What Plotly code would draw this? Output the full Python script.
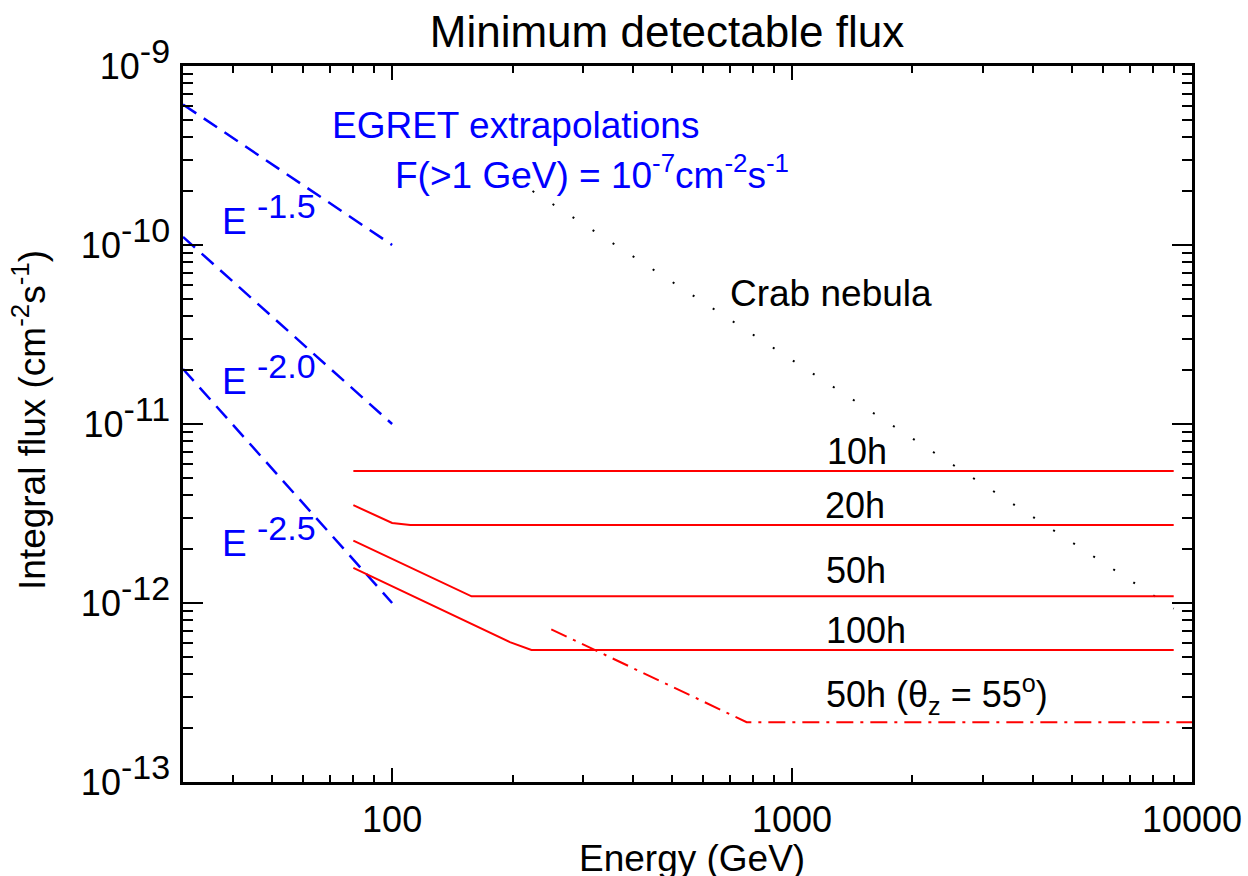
import numpy as np
import plotly.graph_objects as go

# ---------------- data ----------------
egret15_E = [30, 100]
egret15_F = [6.1e-10, 1.0e-10]
egret20_E = [30, 100]
egret20_F = [1.11e-10, 1.0e-11]
egret25_E = [30, 100]
egret25_F = [2.03e-11, 1.0e-12]

crab_E = [200, 9000]
crab_F = [2.37e-10, 9.3e-13]

h10_E = [80, 9000]
h10_F = [5.46e-12, 5.46e-12]
h20_E = [80, 100, 111, 9000]
h20_F = [3.52e-12, 2.80e-12, 2.73e-12, 2.73e-12]
h50_E = [80, 158, 9000]
h50_F = [2.23e-12, 1.09e-12, 1.09e-12]
h100_E = [80, 197, 223, 9000]
h100_F = [1.57e-12, 6.05e-13, 5.46e-13, 5.46e-13]
h50z_E = [250, 770, 10000]
h50z_F = [7.13e-13, 2.16e-13, 2.16e-13]

x_tickvals = [100, 1000, 10000]
x_ticktext = ["100", "1000", "10000"]
y_exponents = [-9, -10, -11, -12, -13]

x_minor = [m * 10 ** d for d in (1, 2, 3) for m in range(2, 10) if 30 <= m * 10 ** d <= 10000]
y_minor = [m * 10.0 ** d for d in (-13, -12, -11, -10) for m in range(2, 10)]

FONT = "Liberation Sans, Arial, Helvetica, sans-serif"
BLUE = "#0000FF"
RED = "#FF0000"

fig = go.Figure()

def line(x, y, color, width, dash):
    fig.add_trace(go.Scatter(x=x, y=y, mode="lines",
                             line=dict(color=color, width=width, dash=dash),
                             showlegend=False, hoverinfo="skip"))

for ex, ey in [(egret15_E, egret15_F), (egret20_E, egret20_F), (egret25_E, egret25_F)]:
    line(ex, ey, BLUE, 2.5, "16px,9px")

line(crab_E, crab_F, "black", 2, "2px,21.9px")

for ex, ey in [(h10_E, h10_F), (h20_E, h20_F), (h50_E, h50_F), (h100_E, h100_F)]:
    line(ex, ey, RED, 2, "solid")
line(h50z_E, h50z_F, RED, 2, "17px,7px,3px,7px")

# ---------------- annotations ----------------
X0 = np.log10(30)
PXDEC = 1009 / (4 - X0)

def px2x(px):
    return X0 + (px - 183) / PXDEC

def py2y(py):
    return -9 - (py - 66) / 179.0

def label(text, px, py, color="black", size=37, anchor="left"):
    fig.add_annotation(x=px2x(px), y=py2y(py), xref="x", yref="y", text=text,
                       showarrow=False, xanchor=anchor, yanchor="middle",
                       font=dict(family=FONT, size=size, color=color))

label("EGRET extrapolations", 330, 125, BLUE)
label("F(&gt;1 GeV) = 10<sup>-7</sup>cm<sup>-2</sup>s<sup>-1</sup>", 393, 172, BLUE)
SUP = "<sup><span style='font-size:34px'>%s</span></sup>"
label("E " + SUP % "-1.5", 220, 214, BLUE)
label("E " + SUP % "-2.0", 220, 374, BLUE)
label("E " + SUP % "-2.5", 220, 536, BLUE)
label("Crab nebula", 728, 293)
label("10h", 825, 451, size=36)
label("20h", 823, 505, size=36)
label("50h", 824, 570, size=36)
label("100h", 824, 630, size=36)
label("50h (θ<sub>z</sub> = 55<sup>o</sup>)", 824, 694, size=36)

# axis titles
fig.add_annotation(x=(692 - 183) / 1009, y=(782 - 858) / 716, xref="paper", yref="paper",
                   text="Energy (GeV)", showarrow=False, xanchor="center", yanchor="middle",
                   font=dict(family=FONT, size=37, color="black"))
fig.add_annotation(x=(30 - 183) / 1009, y=(782 - 420) / 716, xref="paper", yref="paper",
                   text="Integral flux (cm<sup>-2</sup>s<sup>-1</sup>)", textangle=-90,
                   showarrow=False, xanchor="center", yanchor="middle",
                   font=dict(family=FONT, size=37, color="black"))

y_ticktext = ["10<sup><span style='font-size:34px'>%d</span></sup>" % e for e in y_exponents]

fig.update_layout(
    width=1248, height=876,
    margin=dict(l=183, r=56, t=66, b=94),
    paper_bgcolor="white", plot_bgcolor="white",
    title=dict(text="Minimum detectable flux", x=(667 - 183) / 1009, xref="paper",
               xanchor="center", y=1 - 32 / 876, yref="container", yanchor="middle",
               font=dict(family=FONT, size=44, color="black")),
    xaxis=dict(type="log", range=[X0, 4], showgrid=False, zeroline=False, automargin=False,
               showline=True, linecolor="black", linewidth=2.5, mirror="ticks",
               ticks="inside", ticklen=14, tickwidth=2, tickcolor="black",
               tickvals=x_tickvals, ticktext=x_ticktext, ticklabelstandoff=4,
               tickfont=dict(family=FONT, size=36, color="black"),
               minor=dict(tickvals=x_minor, ticks="inside", ticklen=7, tickwidth=2,
                          tickcolor="black", showgrid=False)),
    yaxis=dict(type="log", range=[-13, -9], showgrid=False, zeroline=False, automargin=False,
               showline=True, linecolor="black", linewidth=2.5, mirror="ticks",
               ticks="inside", ticklen=20, tickwidth=2, tickcolor="black",
               tickvals=[10.0 ** e for e in y_exponents], ticktext=y_ticktext,
               ticklabelstandoff=3,
               tickfont=dict(family=FONT, size=36, color="black"),
               minor=dict(tickvals=y_minor, ticks="inside", ticklen=10, tickwidth=2,
                          tickcolor="black", showgrid=False)),
)

fig.write_html("out.html", config={"displayModeBar": False},
               post_script="document.body.style.margin='0px';document.body.style.overflow='hidden';")
